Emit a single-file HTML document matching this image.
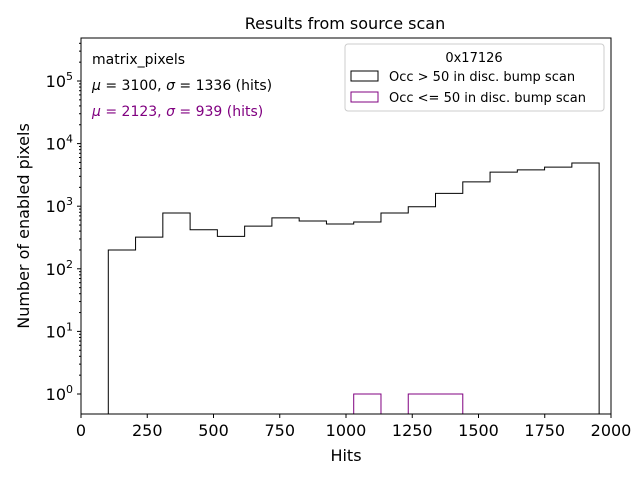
<!DOCTYPE html>
<html><head><meta charset="utf-8"><style>
body{margin:0;background:#fff;}
svg text{font-family:"DejaVu Sans","Liberation Sans",sans-serif;}
</style></head><body>
<svg id="chart" width="640" height="480" xmlns="http://www.w3.org/2000/svg">
<rect width="640" height="480" fill="#fff"/>
<text x="345" y="29" font-size="16" text-anchor="middle">Results from source scan</text>
<g id="marks"></g>
<rect x="81" y="38" width="530" height="376" fill="none" stroke="#000" stroke-width="1"/>
<g id="axes"></g>
<text x="346" y="461" font-size="16" text-anchor="middle">Hits</text>
<text transform="translate(29,226) rotate(-90)" font-size="16" text-anchor="middle">Number of enabled pixels</text>
<text x="92" y="64" font-size="14">matrix_pixels</text>
<text x="92" y="90" font-size="14"><tspan font-style="italic">μ</tspan> = 3100, <tspan font-style="italic">σ</tspan> = 1336 (hits)</text>
<text x="92" y="116" font-size="14" fill="#800080"><tspan font-style="italic">μ</tspan> = 2123, <tspan font-style="italic">σ</tspan> = 939 (hits)</text>
<g>
<rect x="345" y="44" width="259" height="67" rx="3" fill="#fff" stroke="#ccc"/>
<text x="474" y="62" font-size="13" text-anchor="middle">0x17126</text>
<rect x="351" y="71" width="27" height="10" fill="none" stroke="#000"/>
<text x="389" y="81" font-size="13">Occ &gt; 50 in disc. bump scan</text>
<rect x="351" y="92" width="27" height="10" fill="none" stroke="#800080"/>
<text x="389" y="102" font-size="13">Occ &lt;= 50 in disc. bump scan</text>
</g>
</svg>
<script>
const binStart = 103;
const binWidth = 102.9;
const countsBlack = [200,320,780,420,330,480,650,580,520,560,780,980,1600,2450,3500,3800,4200,4900];
const countsPurple = [0,0,0,0,0,0,0,0,0,1,0,1,1,0,0,0,0,0];
const xTicks = [0,250,500,750,1000,1250,1500,1750,2000];
const yTickExps = [0,1,2,3,4,5];
const X0=81,X1=611,Y0=38,Y1=414;
function xs(v){return X0+(v/2000)*(X1-X0);}
function ys(v){return 394-Math.log10(v)*62.6;}
const NS='http://www.w3.org/2000/svg';
const marks=document.getElementById('marks');
const axes=document.getElementById('axes');
function stepPath(counts){
  let d='';let prev=null;
  for(let i=0;i<counts.length;i++){
    const c=counts[i];const xa=xs(binStart+i*binWidth),xb=xs(binStart+(i+1)*binWidth);
    const yc=c>0?ys(c):Y1;
    if(prev===null){d+=`M${xa},${Y1}L${xa},${yc}`;}else{d+=`L${xa},${yc}`;}
    d+=`L${xb},${yc}`;prev=yc;
  }
  d+=`L${xs(binStart+counts.length*binWidth)},${Y1}`;
  return d;
}
const pb=document.createElementNS(NS,'path');
pb.setAttribute('d',stepPath(countsBlack));pb.setAttribute('fill','none');pb.setAttribute('stroke','#000');


marks.appendChild(pb);
let i=0;
while(i<countsPurple.length){
  if(countsPurple[i]>0){
    let j=i;while(j<countsPurple.length&&countsPurple[j]>0)j++;
    let d=`M${xs(binStart+i*binWidth)},${Y1}`;
    for(let k=i;k<j;k++){d+=`L${xs(binStart+k*binWidth)},${ys(countsPurple[k])}L${xs(binStart+(k+1)*binWidth)},${ys(countsPurple[k])}`;}
    d+=`L${xs(binStart+j*binWidth)},${Y1}`;
    const p=document.createElementNS(NS,'path');
    p.setAttribute('d',d);p.setAttribute('fill','none');p.setAttribute('stroke','#800080');
    
    
    marks.appendChild(p);
    i=j;
  } else i++;
}
xTicks.forEach(t=>{
  const x=xs(t);
  const l=document.createElementNS(NS,'line');
  l.setAttribute('x1',x);l.setAttribute('x2',x);l.setAttribute('y1',Y1);l.setAttribute('y2',Y1+4);l.setAttribute('stroke','#000');
  
  
  axes.appendChild(l);
  const tx=document.createElementNS(NS,'text');
  tx.setAttribute('x',x);tx.setAttribute('y',Y1+22);tx.setAttribute('font-size','16');tx.setAttribute('text-anchor','middle');
  tx.textContent=t;
  
  
  axes.appendChild(tx);
});
yTickExps.forEach(e=>{
  const y=ys(Math.pow(10,e));
  const l=document.createElementNS(NS,'line');
  l.setAttribute('x1',X0-4);l.setAttribute('x2',X0);l.setAttribute('y1',y);l.setAttribute('y2',y);l.setAttribute('stroke','#000');
  
  
  axes.appendChild(l);
  for(let m=2;m<10;m++){
    const ym=ys(m*Math.pow(10,e));
    if(ym<Y0||ym>Y1)continue;
    const lm=document.createElementNS(NS,'line');
    lm.setAttribute('x1',X0-2);lm.setAttribute('x2',X0);lm.setAttribute('y1',ym);lm.setAttribute('y2',ym);lm.setAttribute('stroke','#000');
    
    
    axes.appendChild(lm);
  }
  const tx=document.createElementNS(NS,'text');
  tx.setAttribute('x',X0-8);tx.setAttribute('y',y+6);tx.setAttribute('font-size','16');tx.setAttribute('text-anchor','end');
  tx.innerHTML='10<tspan dy="-7" font-size="11">'+e+'</tspan>';
  
  
  axes.appendChild(tx);
});
</script>
</body></html>
